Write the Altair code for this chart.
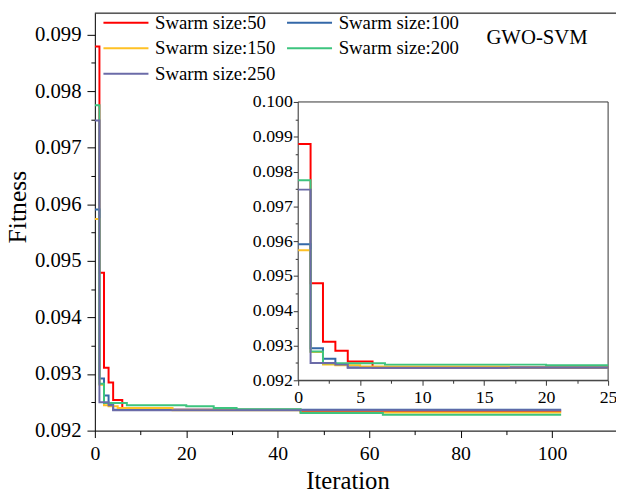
import altair as alt
import pandas as pd
import numpy as np

# ---------------- data ----------------
SERIES = ["Swarm size:50", "Swarm size:100", "Swarm size:150", "Swarm size:200", "Swarm size:250"]
COLORS = ["#FF0000", "#3468A8", "#FFC125", "#3DC47E", "#6B6BA8"]

# change points of each best-fitness step curve (iteration, fitness)
S50_IT = [0, 1, 2, 3, 4, 6, 45]
S50_FIT = [0.09879, 0.09479, 0.09311, 0.09285, 0.09254, 0.09237, 0.09234]
S100_IT = [0, 1, 2, 3, 4]
S100_FIT = [0.09591, 0.09292, 0.09262, 0.09246, 0.09237]
S150_IT = [0, 1, 2, 3, 5, 17, 45]
S150_FIT = [0.09574, 0.09281, 0.09245, 0.09243, 0.09240, 0.09236, 0.09232]
S200_IT = [0, 1, 2, 7, 20, 26, 31, 45, 63]
S200_FIT = [0.09775, 0.09283, 0.09249, 0.09245, 0.09243, 0.09240, 0.09238, 0.09231, 0.09228]
S250_IT = [0, 1, 3, 4]
S250_FIT = [0.09748, 0.09250, 0.09245, 0.09236]
LAST_ITER = 102

ITS = [S50_IT, S100_IT, S150_IT, S200_IT, S250_IT]
FITS = [S50_FIT, S100_FIT, S150_FIT, S200_FIT, S250_FIT]

MAIN_X_TICKS = list(range(0, 101, 10))
MAIN_Y_TICKS = [round(0.092 + 0.0005 * i, 4) for i in range(0, 15)]
INSET_X_TICKS = [2.5 * i for i in range(0, 11)]
INSET_Y_TICKS = [round(0.092 + 0.0005 * i, 4) for i in range(0, 17)]
CHART_LABEL = "GWO-SVM"

# ---------------- tables ----------------
rows_main, rows_inset = [], []
for name, its, fits in zip(SERIES, ITS, FITS):
    for i, f in zip(its, fits):
        rows_main.append({"series": name, "iter": i, "fit": f})
    rows_main.append({"series": name, "iter": LAST_ITER, "fit": fits[-1]})
    last = fits[0]
    for i, f in zip(its, fits):
        if i < 25:
            rows_inset.append({"series": name, "iter": i, "fit": f})
            last = f
    rows_inset.append({"series": name, "iter": 25, "fit": last})
main_df = pd.DataFrame(rows_main)
inset_df = pd.DataFrame(rows_inset)
one_df = pd.DataFrame({"label": [CHART_LABEL]})

# ---------------- layout ----------------
W, H = 528, 423
X_MAX = 114
Y_DOM = [0.092, 0.09938]
IN_XR = [206, 520]
IN_YR = [372, 90]
FONT = "Liberation Serif"

major_y = "abs(datum.value*1000 - round(datum.value*1000)) < 0.01"

color = alt.Color(
    "series:N",
    scale=alt.Scale(domain=SERIES, range=COLORS),
    sort=SERIES,
    legend=alt.Legend(
        orient="none", legendX=21, legendY=-1, columns=2, direction="horizontal", title=None,
        symbolType="M-2.4,0H2.4", symbolSize=361, symbolStrokeWidth=2,
        labelFont=FONT, labelFontSize=19, labelColor="black", labelOffset=19,
        columnPadding=7, rowPadding=5, padding=0, labelLimit=0,
    ),
)

main_lines = alt.Chart(main_df).mark_line(interpolate="step-after", strokeWidth=2, clip=True).encode(
    x=alt.X("iter:Q", scale=alt.Scale(domain=[0, X_MAX], nice=False, zero=False),
            axis=alt.Axis(values=MAIN_X_TICKS, title="Iteration", grid=False,
                          labelExpr="datum.value % 20 == 0 ? datum.label : ''",
                          tickSize={"condition": {"test": "datum.value % 20 == 0", "value": 7}, "value": 4},
                          labelFont=FONT, labelFontSize=20, labelColor="black", labelPadding=6,
                          labelFlush=False, labelOverlap=False,
                          domainColor="black", tickColor="black",
                          titleFont=FONT, titleFontSize=25, titleFontWeight="normal", titleColor="black",
                          titleX=256, titleY=59, titleBaseline="alphabetic", titleAnchor="middle")),
    y=alt.Y("fit:Q", scale=alt.Scale(domain=Y_DOM, nice=False, zero=False),
            axis=alt.Axis(values=MAIN_Y_TICKS, title="Fitness", grid=False,
                          labelExpr=major_y + " ? format(datum.value, '.3f') : ''",
                          tickSize={"condition": {"test": major_y, "value": 8}, "value": 4},
                          labelFont=FONT, labelFontSize=21, labelColor="black", labelPadding=6,
                          labelOverlap=False, domainColor="black", tickColor="black",
                          titleFont=FONT, titleFontSize=26, titleFontWeight="normal", titleColor="black",
                          titleX=-70, titleY=196, titleBaseline="alphabetic", titleAngle=-90,
                          titleAnchor="middle")),
    color=color,
)

inset_frame = alt.Chart(one_df).mark_rect(fill="white", stroke="#333333", strokeWidth=1).encode(
    x=alt.value(IN_XR[0]), x2=alt.value(IN_XR[1]), y=alt.value(IN_YR[1]), y2=alt.value(IN_YR[0])
)

inset_lines = alt.Chart(inset_df).mark_line(interpolate="step-after", strokeWidth=2).encode(
    x=alt.X("iter:Q", scale=alt.Scale(domain=[0, 25], range=IN_XR, nice=False, zero=False),
            axis=alt.Axis(orient="bottom", offset=-(H - IN_YR[0]), values=INSET_X_TICKS, title=None,
                          grid=False, labelExpr="datum.value % 5 == 0 ? datum.label : ''",
                          tickSize={"condition": {"test": "datum.value % 5 == 0", "value": 5}, "value": 3},
                          labelFont=FONT, labelFontSize=18, labelColor="black", labelPadding=3,
                          labelFlush=False, labelOverlap=False,
                          domainColor="#333333", tickColor="#333333")),
    y=alt.Y("fit:Q", scale=alt.Scale(domain=[0.092, 0.100], range=IN_YR, nice=False, zero=False),
            axis=alt.Axis(orient="left", offset=-IN_XR[0], values=INSET_Y_TICKS, title=None, grid=False,
                          labelExpr=major_y + " ? format(datum.value, '.3f') : ''",
                          tickSize={"condition": {"test": major_y, "value": 5}, "value": 3},
                          labelFont=FONT, labelFontSize=18, labelColor="black", labelPadding=1,
                          labelOverlap=False, domainColor="#333333", tickColor="#333333")),
    color=alt.Color("series:N", scale=alt.Scale(domain=SERIES, range=COLORS), sort=SERIES, legend=None),
)

top_rule = alt.Chart(one_df).mark_rule(color="black", strokeWidth=1).encode(
    x=alt.value(0), x2=alt.value(W), y=alt.value(0)
)

title_txt = alt.Chart(one_df).mark_text(
    font=FONT, fontSize=21, fill="black", align="center", baseline="alphabetic"
).encode(text="label:N", x=alt.value(448), y=alt.value(31))

chart = alt.layer(main_lines, inset_frame, inset_lines, top_rule, title_txt).resolve_scale(
    x="independent", y="independent"
).properties(
    width=W, height=H,
    autosize=alt.AutoSizeParams(type="none"),
    padding={"left": 88, "top": 2, "right": 0, "bottom": 60},
).configure_view(stroke=None).configure(background="white")

chart.save("out.html", embed_options={"renderer": "svg", "actions": False})
